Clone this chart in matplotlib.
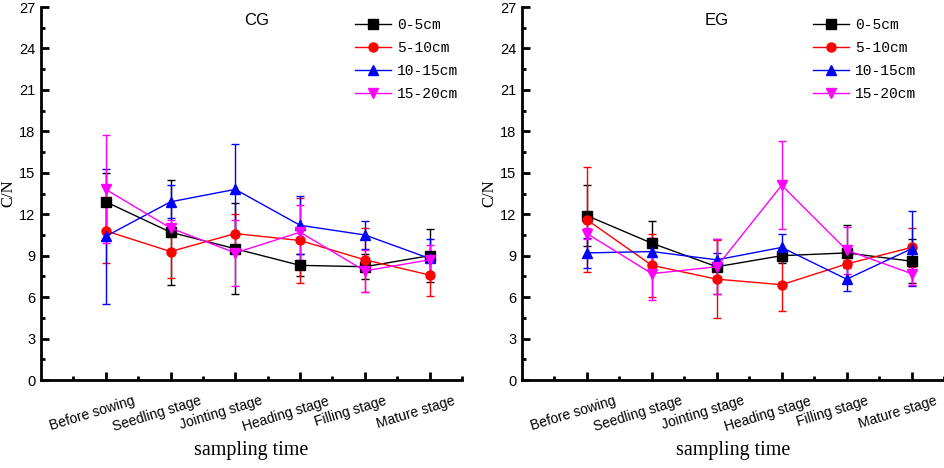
import numpy as np
import matplotlib
matplotlib.use("Agg")
import matplotlib.pyplot as plt
import matplotlib.transforms as mtrans
from matplotlib.lines import Line2D
from matplotlib.ticker import MultipleLocator

# datos
etapas = ["Before sowing", "Seedling stage", "Jointing stage",
          "Heading stage", "Filling stage", "Mature stage"]
capas = ["0-5cm", "5-10cm", "10-15cm", "15-20cm"]

cg_0_5 = [12.9, 10.7, 9.5, 8.3, 8.2, 9.0]
cg_5_10 = [10.8, 9.3, 10.6, 10.1, 8.7, 7.6]
cg_10_15 = [10.4, 12.9, 13.8, 11.2, 10.5, 8.8]
cg_15_20 = [13.8, 11.0, 9.2, 10.7, 7.9, 8.7]
cg_err_0_5 = [2.1, 3.8, 3.3, 0.8, 0.9, 1.9]
cg_err_5_10 = [2.3, 1.9, 1.4, 3.1, 2.3, 1.5]
cg_err_10_15 = [4.9, 1.2, 3.3, 2.1, 1.0, 1.4]
cg_err_15_20 = [3.9, 0.6, 2.4, 2.0, 1.5, 1.1]

eg_0_5 = [11.9, 9.9, 8.2, 9.0, 9.2, 8.6]
eg_5_10 = [11.6, 8.3, 7.3, 6.9, 8.4, 9.6]
eg_10_15 = [9.2, 9.3, 8.7, 9.6, 7.3, 9.5]
eg_15_20 = [10.6, 7.7, 8.2, 14.1, 9.4, 7.7]
eg_err_0_5 = [2.2, 1.6, 2.0, 0.5, 2.0, 1.6]
eg_err_5_10 = [3.8, 2.3, 2.8, 1.9, 0.3, 1.4]
eg_err_10_15 = [1.1, 1.0, 0.5, 1.0, 0.85, 2.7]
eg_err_15_20 = [0.4, 1.9, 2.0, 3.2, 1.7, 0.8]

colores = ["black", "red", "blue", "magenta"]
marcadores = ["s", "o", "^", "v"]

fig = plt.figure(figsize=(9.44, 4.68), dpi=100)
ax1 = fig.add_axes([0.0434, 0.188, 0.446, 0.797])
ax2 = fig.add_axes([0.553, 0.188, 0.447, 0.797])

paneles = [
    (ax1, "CG", [cg_0_5, cg_5_10, cg_10_15, cg_15_20],
     [cg_err_0_5, cg_err_5_10, cg_err_10_15, cg_err_15_20], 0.513, 0.735),
    (ax2, "EG", [eg_0_5, eg_5_10, eg_10_15, eg_15_20],
     [eg_err_0_5, eg_err_5_10, eg_err_10_15, eg_err_15_20], 0.462, 0.678),
]

# desplazamiento de las etiquetas del eje x hacia la izquierda
desplazar = mtrans.ScaledTranslation(-14 / 100, 0, fig.dpi_scale_trans)

x = np.arange(1, len(etapas) + 1)
for ax, titulo, series, errores, tx, lx in paneles:
    for s, e, c, m, lab in zip(series, errores, colores, marcadores, capas):
        ax.errorbar(x, s, yerr=e, color=c, marker=m, markersize=6.5,
                    linewidth=1, elinewidth=1, capsize=3, capthick=1)
    ax.set_xlim(0, 6.5)
    ax.set_ylim(0, 27)
    ax.yaxis.set_major_locator(MultipleLocator(3))
    ax.yaxis.set_minor_locator(MultipleLocator(1.5))
    ax.set_xticks(x)
    ax.set_xticks(np.arange(0.5, 7, 1), minor=True)
    ax.tick_params(which="major", direction="in", length=6, width=2, pad=4)
    ax.tick_params(which="minor", direction="in", length=3, width=2)
    ax.tick_params(axis="x", which="major", pad=10)
    ax.set_xticklabels(etapas, rotation=17, ha="center",
                       family="Liberation Sans", fontsize=10)
    for t in ax.xaxis.get_majorticklabels():
        t.set_transform(t.get_transform() + desplazar)
    for t in ax.get_yticklabels():
        t.set_family("Liberation Sans")
        t.set_fontsize(10.5)
    for lado in ["top", "right"]:
        ax.spines[lado].set_visible(False)
    for lado in ["left", "bottom"]:
        ax.spines[lado].set_linewidth(2)
    ax.set_ylabel("C/N", family="Liberation Serif", fontsize=12, labelpad=2)
    ax.set_xlabel("sampling time", family="Liberation Serif", fontsize=14.5,
                  labelpad=5)
    ax.text(tx, 0.965, titulo, transform=ax.transAxes, ha="center",
            va="center", family="Liberation Sans", fontsize=12)
    manijas = [Line2D([], [], color=c, marker=m, markersize=6.5, linewidth=1)
               for c, m in zip(colores, marcadores)]
    ax.legend(manijas, capas, loc="upper left", bbox_to_anchor=(lx, 0.982),
              frameon=False, borderaxespad=0, borderpad=0.3,
              labelspacing=0.62, handlelength=2.5, handletextpad=0.4,
              prop={"family": "Liberation Mono", "size": 10.5})

fig.savefig("out.png", dpi=100)
